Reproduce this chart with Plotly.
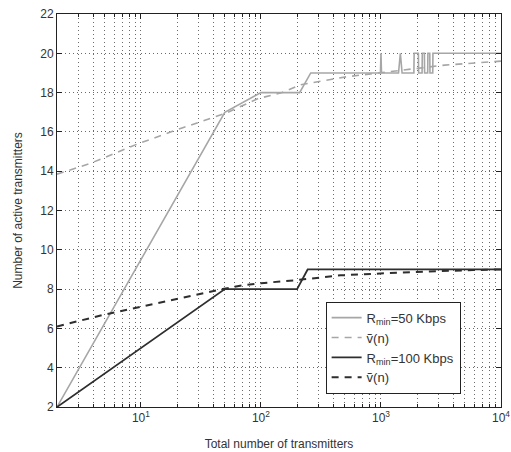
import plotly.graph_objects as go

# Data
# R_min = 50 Kbps (simulated, solid light gray)
n_50 = [2, 50, 100, 210, 260, 990, 1000, 1010, 1400, 1450, 1500, 1880, 1890, 2050, 2060,
        2200, 2210, 2300, 2310, 2450, 2460, 2550, 2560, 2700, 2710, 10000]
v_50 = [2, 17, 18, 18, 19, 19, 20, 19, 19, 20, 19, 19, 20, 20, 19,
        19, 20, 20, 19, 19, 20, 20, 19, 19, 20, 20]
# approximation nu~(n) for R_min = 50 Kbps (dashed light gray)
n_50a = [2, 3.8, 9.5, 22, 51, 95, 150, 215, 510, 1000, 3400, 10000]
v_50a = [13.85, 14.4, 15.4, 16.2, 16.95, 17.7, 18.0, 18.4, 18.8, 19.0, 19.4, 19.6]
# R_min = 100 Kbps (simulated, solid dark)
n_100 = [2, 50, 200, 245, 10000]
v_100 = [2, 8, 8, 9, 9]
# approximation nu~(n) for R_min = 100 Kbps (dashed dark)
n_100a = [2, 4.8, 9.8, 19, 37, 48, 71, 100, 200, 460, 1000, 1860, 5900, 10000]
v_100a = [6.1, 6.68, 7.09, 7.45, 7.85, 8.0, 8.2, 8.3, 8.46, 8.7, 8.8, 8.87, 8.97, 9.0]

x_major = [10, 100, 1000, 10000]
x_major_text = ["10<sup>1</sup>", "10<sup>2</sup>", "10<sup>3</sup>", "10<sup>4</sup>"]
x_minor = [m * d for d in [1, 10, 100, 1000] for m in range(2, 10)]
y_ticks = list(range(2, 23, 2))

light = "#a6a6a6"
dark = "#2e2e2e"

fig = go.Figure()
fig.add_trace(go.Scatter(x=n_50, y=v_50, mode="lines", name="R<sub>min</sub>=50 Kbps",
                         line=dict(color=light, width=1.6)))
fig.add_trace(go.Scatter(x=n_50a, y=v_50a, mode="lines", name="\u1e7d(n)",
                         line=dict(color=light, width=1.6, dash="7px,6px")))
fig.add_trace(go.Scatter(x=n_100, y=v_100, mode="lines", name="R<sub>min</sub>=100 Kbps",
                         line=dict(color=dark, width=1.8)))
fig.add_trace(go.Scatter(x=n_100a, y=v_100a, mode="lines", name="\u1e7d(n)",
                         line=dict(color=dark, width=2, dash="7px,6px")))

grid = dict(gridcolor="#6a6a6a", gridwidth=1, griddash="1px,3px")
fig.update_xaxes(type="log", range=[0.30103, 4], automargin=False,
                 tickmode="array", tickvals=x_major, ticktext=x_major_text,
                 ticks="inside", ticklen=5, tickcolor="#222",
                 ticklabeloverflow="allow",
                 showline=True, linecolor="#222", linewidth=1, mirror="ticks",
                 showgrid=True, **grid,
                 minor=dict(tickvals=x_minor, ticks="inside", ticklen=3, tickcolor="#222",
                            showgrid=True, **grid),
                 zeroline=False,
                 title=dict(text="Total number of transmitters",
                            font=dict(size=12, color="#333")),
                 tickfont=dict(size=12, color="#333"))
fig.update_yaxes(range=[2, 22], automargin=False, tickmode="array", tickvals=y_ticks,
                 ticks="inside", ticklen=5, tickcolor="#222",
                 showline=True, linecolor="#222", linewidth=1, mirror="ticks",
                 showgrid=True, **grid, zeroline=False,
                 title=dict(text="Number of active transmitters",
                            font=dict(size=12, color="#333")),
                 tickfont=dict(size=12, color="#333"))

fig.update_layout(
    width=511, height=452,
    margin=dict(l=57, r=10, t=14, b=45),
    paper_bgcolor="white", plot_bgcolor="white",
    font=dict(family="Liberation Sans, Arial, sans-serif", size=12, color="#333"),
    legend=dict(x=0.605, y=0.268, xanchor="left", yanchor="top",
                bgcolor="white", bordercolor="#222", borderwidth=1,
                font=dict(size=13, color="#333"), tracegroupgap=0,
                itemwidth=30),
    showlegend=True,
)

fig.write_html("out.html", config={"displayModeBar": False},
               post_script="document.body.style.margin='0';")
